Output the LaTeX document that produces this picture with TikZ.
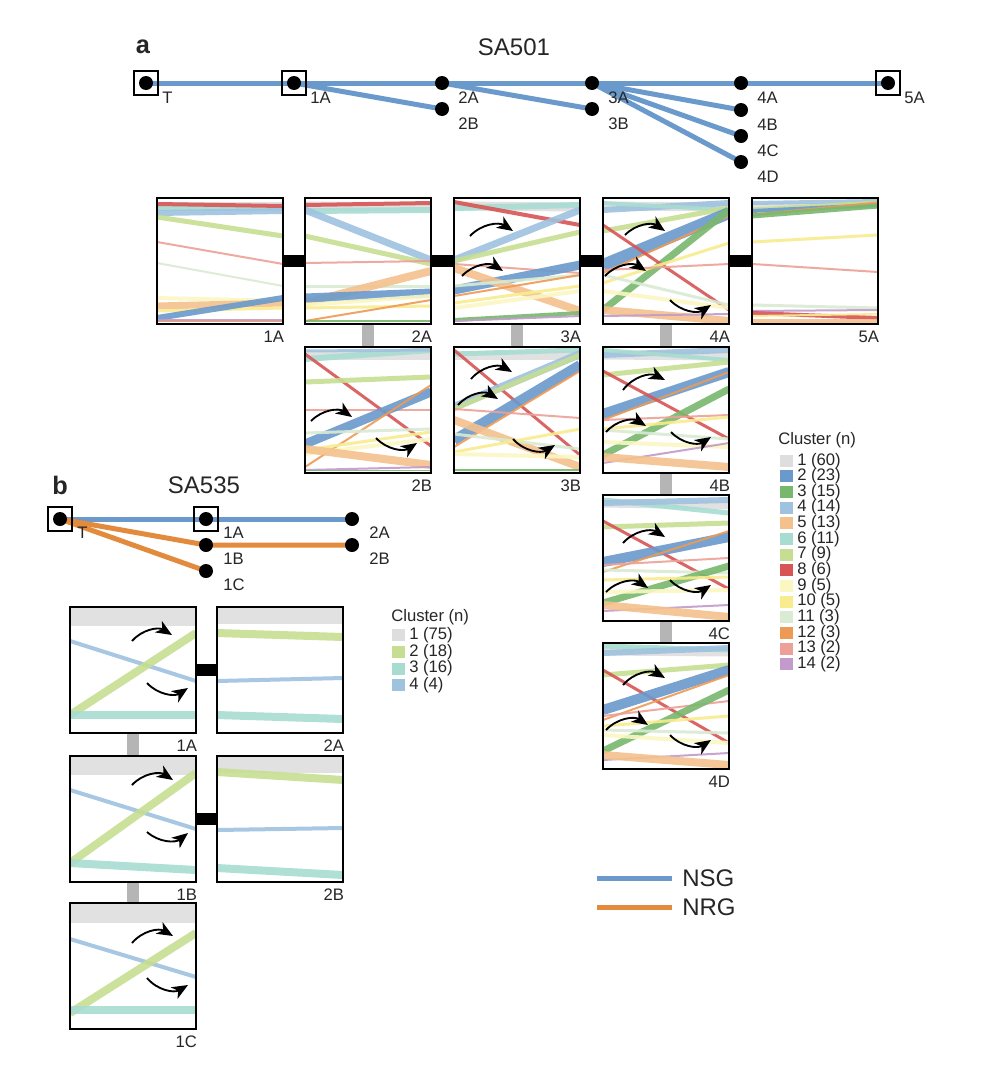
\documentclass[tikz,border=0pt]{standalone}
\usepackage{fontspec}
\setmainfont{Liberation Sans}
\usetikzlibrary{arrows.meta,calc}
\pgfdeclarelayer{bg}
\pgfsetlayers{bg,main}
\definecolor{cl1}{HTML}{DEDEDE}
\definecolor{cl2}{HTML}{6A9ACB}
\definecolor{cl3}{HTML}{78B86D}
\definecolor{cl4}{HTML}{9FC2DF}
\definecolor{cl5}{HTML}{F4C18D}
\definecolor{cl6}{HTML}{A8DCD1}
\definecolor{cl7}{HTML}{C7DE92}
\definecolor{cl8}{HTML}{D85555}
\definecolor{cl9}{HTML}{FBF7C3}
\definecolor{cl10}{HTML}{F9EC8E}
\definecolor{cl11}{HTML}{D9EBD3}
\definecolor{cl12}{HTML}{EE9A55}
\definecolor{cl13}{HTML}{EDA097}
\definecolor{cl14}{HTML}{C29ACB}
\definecolor{nsg}{HTML}{6A9ACB}
\definecolor{nrg}{HTML}{E38B3D}
\definecolor{conngray}{HTML}{B5B5B5}
\definecolor{txt}{HTML}{262626}
\tikzset{
  panelbox/.style={draw=black, line width=1.8pt, minimum size=94.5pt, inner sep=0pt},
  dot/.style={circle, fill=black, minimum size=10.5pt, inner sep=0pt},
  sqbox/.style={draw=black, line width=1.1pt, minimum size=18pt, inner sep=0pt},
  lab/.style={font=\fontsize{12.5}{14}\selectfont, text=txt, inner sep=0pt},
  ttl/.style={font=\fontsize{18}{21}\selectfont, text=txt, inner sep=0pt},
  letter/.style={font=\fontsize{19}{22}\selectfont\bfseries, text=txt, inner sep=0pt},
  treeedge/.style={line width=3.75pt},
  blackbar/.style={line width=9pt, black},
  graybar/.style={line width=9pt, conngray},
  arr/.style={line width=1.4pt, -{Stealth[length=12pt,width=10pt,inset=3.5pt]}},
  leg/.style={font=\fontsize{12.5}{14}\selectfont, text=txt, inner sep=0pt, anchor=west},
  bigleg/.style={font=\fontsize{18}{21}\selectfont, text=txt, inner sep=0pt, anchor=west},
}
% name, x, y, lines, arrows, label
\newcommand\mypanel[6]{%
  \begin{scope}[shift={(#2,#3)}]
    \begin{scope}
      \clip (0,0) rectangle (126,126);
      \foreach \cc/\pa/\pb/\ww in {#4} {\draw[line width=\ww*0.75pt, color=cl\cc, opacity=0.9] (0,\pa) -- (126,\pb);}
    \end{scope}
    \foreach \xa/\ya/\xb/\yb/\bd in {#5} {\draw[arr] (\xa,\ya) to[bend left=\bd] (\xb,\yb);}
    \node[panelbox] (#1) at (63,63) {};
  \end{scope}
  \node[lab, anchor=north east, yshift=-4pt] (#1lab) at (#1.south east) {#6};
}
\begin{document}
\begin{tikzpicture}[x=0.75pt,y=-0.75pt]
\begin{pgfonlayer}{bg}
\fill[white] (0,0) rectangle (992,1078);
\end{pgfonlayer}
\useasboundingbox (0,0) rectangle (992,1078);

% ---------- headers
\node[letter] (la) at (143,47) {a};
\node[ttl] (sa501) at (514,47) {SA501};
\node[letter] (lb) at (60,485) {b};
\node[ttl] (sa535) at (204,485) {SA535};

% ---------- tree a
\node[dot] (taT) at (146,83) {};
\node[dot] (ta1A) at (294,83) {};
\node[dot] (ta2A) at (442,83) {};
\node[dot] (ta2B) at (442,109) {};
\node[dot] (ta3A) at (592,83) {};
\node[dot] (ta3B) at (592,109) {};
\node[dot] (ta4A) at (741,83) {};
\node[dot] (ta4B) at (741,110) {};
\node[dot] (ta4C) at (741,136) {};
\node[dot] (ta4D) at (741,162) {};
\node[dot] (ta5A) at (888,83) {};
\node[sqbox] (taTbox) at (taT) {};
\node[sqbox] (ta1Abox) at (ta1A) {};
\node[sqbox] (ta5Abox) at (ta5A) {};
\begin{pgfonlayer}{bg}
\draw[nsg, treeedge] (taT.center) -- (ta1A.center) -- (ta2A.center) -- (ta3A.center) -- (ta4A.center) -- (ta5A.center);
\draw[nsg, treeedge] (ta1A.center) -- (ta2B.center);
\draw[nsg, treeedge] (ta2A.center) -- (ta3B.center);
\draw[nsg, treeedge] (ta3A.center) -- (ta4B.center);
\draw[nsg, treeedge] (ta3A.center) -- (ta4C.center);
\draw[nsg, treeedge] (ta3A.center) -- (ta4D.center);
\end{pgfonlayer}
\foreach \n in {T,1A,2A,2B,3A,3B,4A,4B,4C,4D,5A}
  {\node[lab, anchor=west] (tla\n) at ($(ta\n)+(16,15)$) {\n};}

% ---------- tree b
\node[dot] (tbT) at (60,519) {};
\node[dot] (tb1A) at (206,519) {};
\node[dot] (tb2A) at (352,519) {};
\node[dot] (tb1B) at (206,545) {};
\node[dot] (tb2B) at (352,545) {};
\node[dot] (tb1C) at (206,571) {};
\node[sqbox] (tbTbox) at (tbT) {};
\node[sqbox] (tb1Abox) at (tb1A) {};
\begin{pgfonlayer}{bg}
\draw[nsg, treeedge] (tbT.center) -- (tb1A.center) -- (tb2A.center);
\draw[nrg, treeedge] (tbT.center) -- (tb1B.center) -- (tb2B.center);
\draw[nrg, treeedge] (tbT.center) -- (tb1C.center);
\end{pgfonlayer}
\foreach \n in {T,1A,2A,1B,2B,1C}
  {\node[lab, anchor=west] (tlb\n) at ($(tb\n)+(17,14)$) {\n};}

% ---------- panels a
\mypanel{pa1A}{157}{198}{1/8/8/9, 6/10/10/5, 4/15/13/6, 8/6/8/4, 7/19/38/5, 13/44/66/2, 11/65/88/2, 9/100/103/4, 5/108/105/7, 10/113/110/3, 2/120/100/6, 12/123/123/2, 14/122/122/2}{}{1A}
\mypanel{pa2A}{305}{198}{1/8/9/9, 8/7/5/4, 6/13/12/6, 4/12/62/7, 7/38/66/5, 13/65/63/2, 11/88/88/3, 5/105/73/8, 2/100/95/9, 9/107/98/4, 10/110/108/3, 12/123/102/2, 3/123/123/2}{}{2A}
\mypanel{pa3A}{454}{198}{1/8/9/9, 6/10/7/6, 8/4/27/4, 4/62/12/7, 7/63/34/5, 13/66/75/2, 2/92/67/9, 5/70/113/8, 11/88/77/3, 12/98/77/2, 10/105/88/3, 9/110/93/4, 3/122/115/4, 14/123/118/2}{16/38/59/33/40, 8/78/49/73/40}{3A}
\mypanel{pa4A}{603}{198}{1/8/9/9, 4/12/5/6, 6/5/12/4, 7/33/10/5, 2/67/15/12, 12/75/18/2, 3/112/12/7, 8/27/112/3, 10/85/45/3, 13/72/66/2, 11/77/107/3, 9/93/110/4, 5/112/123/8, 14/118/116/2}{22/37/62/33/40, 2/78/43/73/40, 67/102/108/107/-40}{4A}
\mypanel{pa5A}{752}{198}{1/8/8/6, 4/5/3/4, 7/12/5/5, 2/13/7/4, 12/17/5/3, 3/18/8/5, 10/44/37/3, 13/66/74/2, 11/107/110/3, 14/113/112/2, 8/115/120/4, 10/118/116/2, 5/123/123/4}{}{5A}
\mypanel{pa2B}{305}{347}{1/8/8/9, 6/12/3/6, 4/4/3/3, 8/7/99/3, 7/35/30/5, 13/63/63/2, 2/97/45/9, 12/120/38/2, 11/86/82/3, 10/103/85/3, 9/107/92/4, 5/102/118/8, 14/123/120/2, 3/123/123/1}{6/74/47/70/40, 71/91/112/96/-40}{2B}
\mypanel{pa3B}{454}{347}{1/8/8/9, 6/7/3/5, 8/3/108/3, 4/60/7/8, 7/62/8/5, 2/93/18/10, 12/100/24/2, 13/62/71/2, 5/73/120/8, 11/87/102/3, 10/105/82/3, 9/107/110/4, 3/123/123/2}{17/32/58/25/40, 4/58/44/52/40, 59/92/101/98/-40}{3B}
\mypanel{pa4B}{603}{347}{1/8/9/9, 4/8/3/6, 6/3/13/4, 7/28/15/5, 2/67/25/10, 12/73/25/2, 8/24/92/3, 3/108/42/7, 13/73/68/2, 10/82/70/3, 11/83/92/3, 9/95/100/4, 14/116/96/2, 5/110/120/8}{20/43/62/33/40, 3/85/43/79/40, 68/85/108/90/-40}{4B}
\mypanel{pa4C}{603}{495}{1/8/10/9, 6/5/18/5, 4/8/5/6, 7/32/28/5, 8/26/94/3, 2/67/42/10, 12/77/36/2, 13/70/63/2, 11/75/78/3, 3/108/71/7, 10/85/82/3, 9/97/95/4, 14/116/110/2, 5/110/122/8}{20/48/62/42/40, 3/97/45/93/40, 67/85/108/90/-40}{4C}
\mypanel{pa4D}{603}{643}{1/8/9/9, 6/3/7/5, 4/10/5/6, 7/32/22/5, 8/27/100/3, 2/67/27/10, 12/77/32/2, 13/73/58/2, 3/108/47/7, 10/83/73/3, 11/87/90/3, 9/92/100/4, 14/117/110/2, 5/112/122/8}{20/42/62/35/40, 3/87/45/82/40, 67/92/108/97/-40}{4D}

% connectors a
\draw[blackbar] (pa1A.east) -- (pa2A.west);
\draw[blackbar] (pa2A.east) -- (pa3A.west);
\draw[blackbar] (pa3A.east) -- (pa4A.west);
\draw[blackbar] (pa4A.east) -- (pa5A.west);
\draw[graybar] (pa2A.south) -- (pa2B.north);
\draw[graybar] (pa3A.south) -- (pa3B.north);
\draw[graybar] (pa4A.south) -- (pa4B.north);
\draw[graybar] (pa4B.south) -- (pa4C.north);
\draw[graybar] (pa4C.south) -- (pa4D.north);

% ---------- panels b
\mypanel{pb1A}{70}{607}{1/9/9/19, 4/34/74/4, 7/108/26/8, 6/108/108/8}{62/34/102/28/40, 77/76/118/81/-40}{1A}
\mypanel{pb2A}{217}{607}{1/8/8/17, 7/26/30/8, 4/74/71/4, 6/108/112/8}{}{2A}
\mypanel{pb1B}{70}{756}{1/9/9/19, 4/34/73/4, 7/107/17/8, 6/107/114/8}{62/29/103/24/40, 77/76/118/77/-40}{1B}
\mypanel{pb2B}{217}{756}{1/8/8/17, 7/16/24/8, 4/74/72/4, 6/112/119/8}{}{2B}
\mypanel{pb1C}{70}{903}{1/10/10/20, 4/36/74/4, 7/110/30/8, 6/107/107/8}{62/40/103/33/40, 77/75/118/82/-40}{1C}
\draw[blackbar] (pb1A.east) -- (pb2A.west);
\draw[blackbar] (pb1B.east) -- (pb2B.west);
\draw[graybar] (pb1A.south) -- (pb1B.north);
\draw[graybar] (pb1B.south) -- (pb1C.north);

% ---------- legend a
\node[leg] (lgAt) at (778,440) {Cluster (n)};
\foreach \i/\t [count=\k] in {1/60,2/23,3/15,4/14,5/13,6/11,7/9,8/6,9/5,10/5,11/3,12/3,13/2,14/2} {
  \fill[cl\i] (780,{460.7+15.65*(\k-1)-6}) rectangle +(13,12);
  \node[leg] (lgA\i) at (797,{460.7+15.65*(\k-1)}) {\i{} (\t)};
}
% ---------- legend b
\node[leg] (lgBt) at (391,617) {Cluster (n)};
\foreach \i/\t [count=\k] in {1/75,2/18,3/16,4/4} {
  \pgfmathsetmacro{\cn}{\i==1 ? 1 : (\i==2 ? 7 : (\i==3 ? 6 : 4))}
  \fill[cl\cn] (392,{635+16.8*(\k-1)-6}) rectangle +(13,12);
  \node[leg] (lgB\i) at (409,{635+16.8*(\k-1)}) {\i{} (\t)};
}

% ---------- NSG / NRG legend
\coordinate (nsgA) at (597,878);
\coordinate (nsgB) at (672,878);
\coordinate (nrgA) at (597,907);
\coordinate (nrgB) at (672,907);
\draw[nsg, treeedge] (nsgA) -- (nsgB);
\draw[nrg, treeedge] (nrgA) -- (nrgB);
\node[bigleg] (nsgT) at (682,878) {NSG};
\node[bigleg] (nrgT) at (682,907) {NRG};
\end{tikzpicture}
\end{document}
